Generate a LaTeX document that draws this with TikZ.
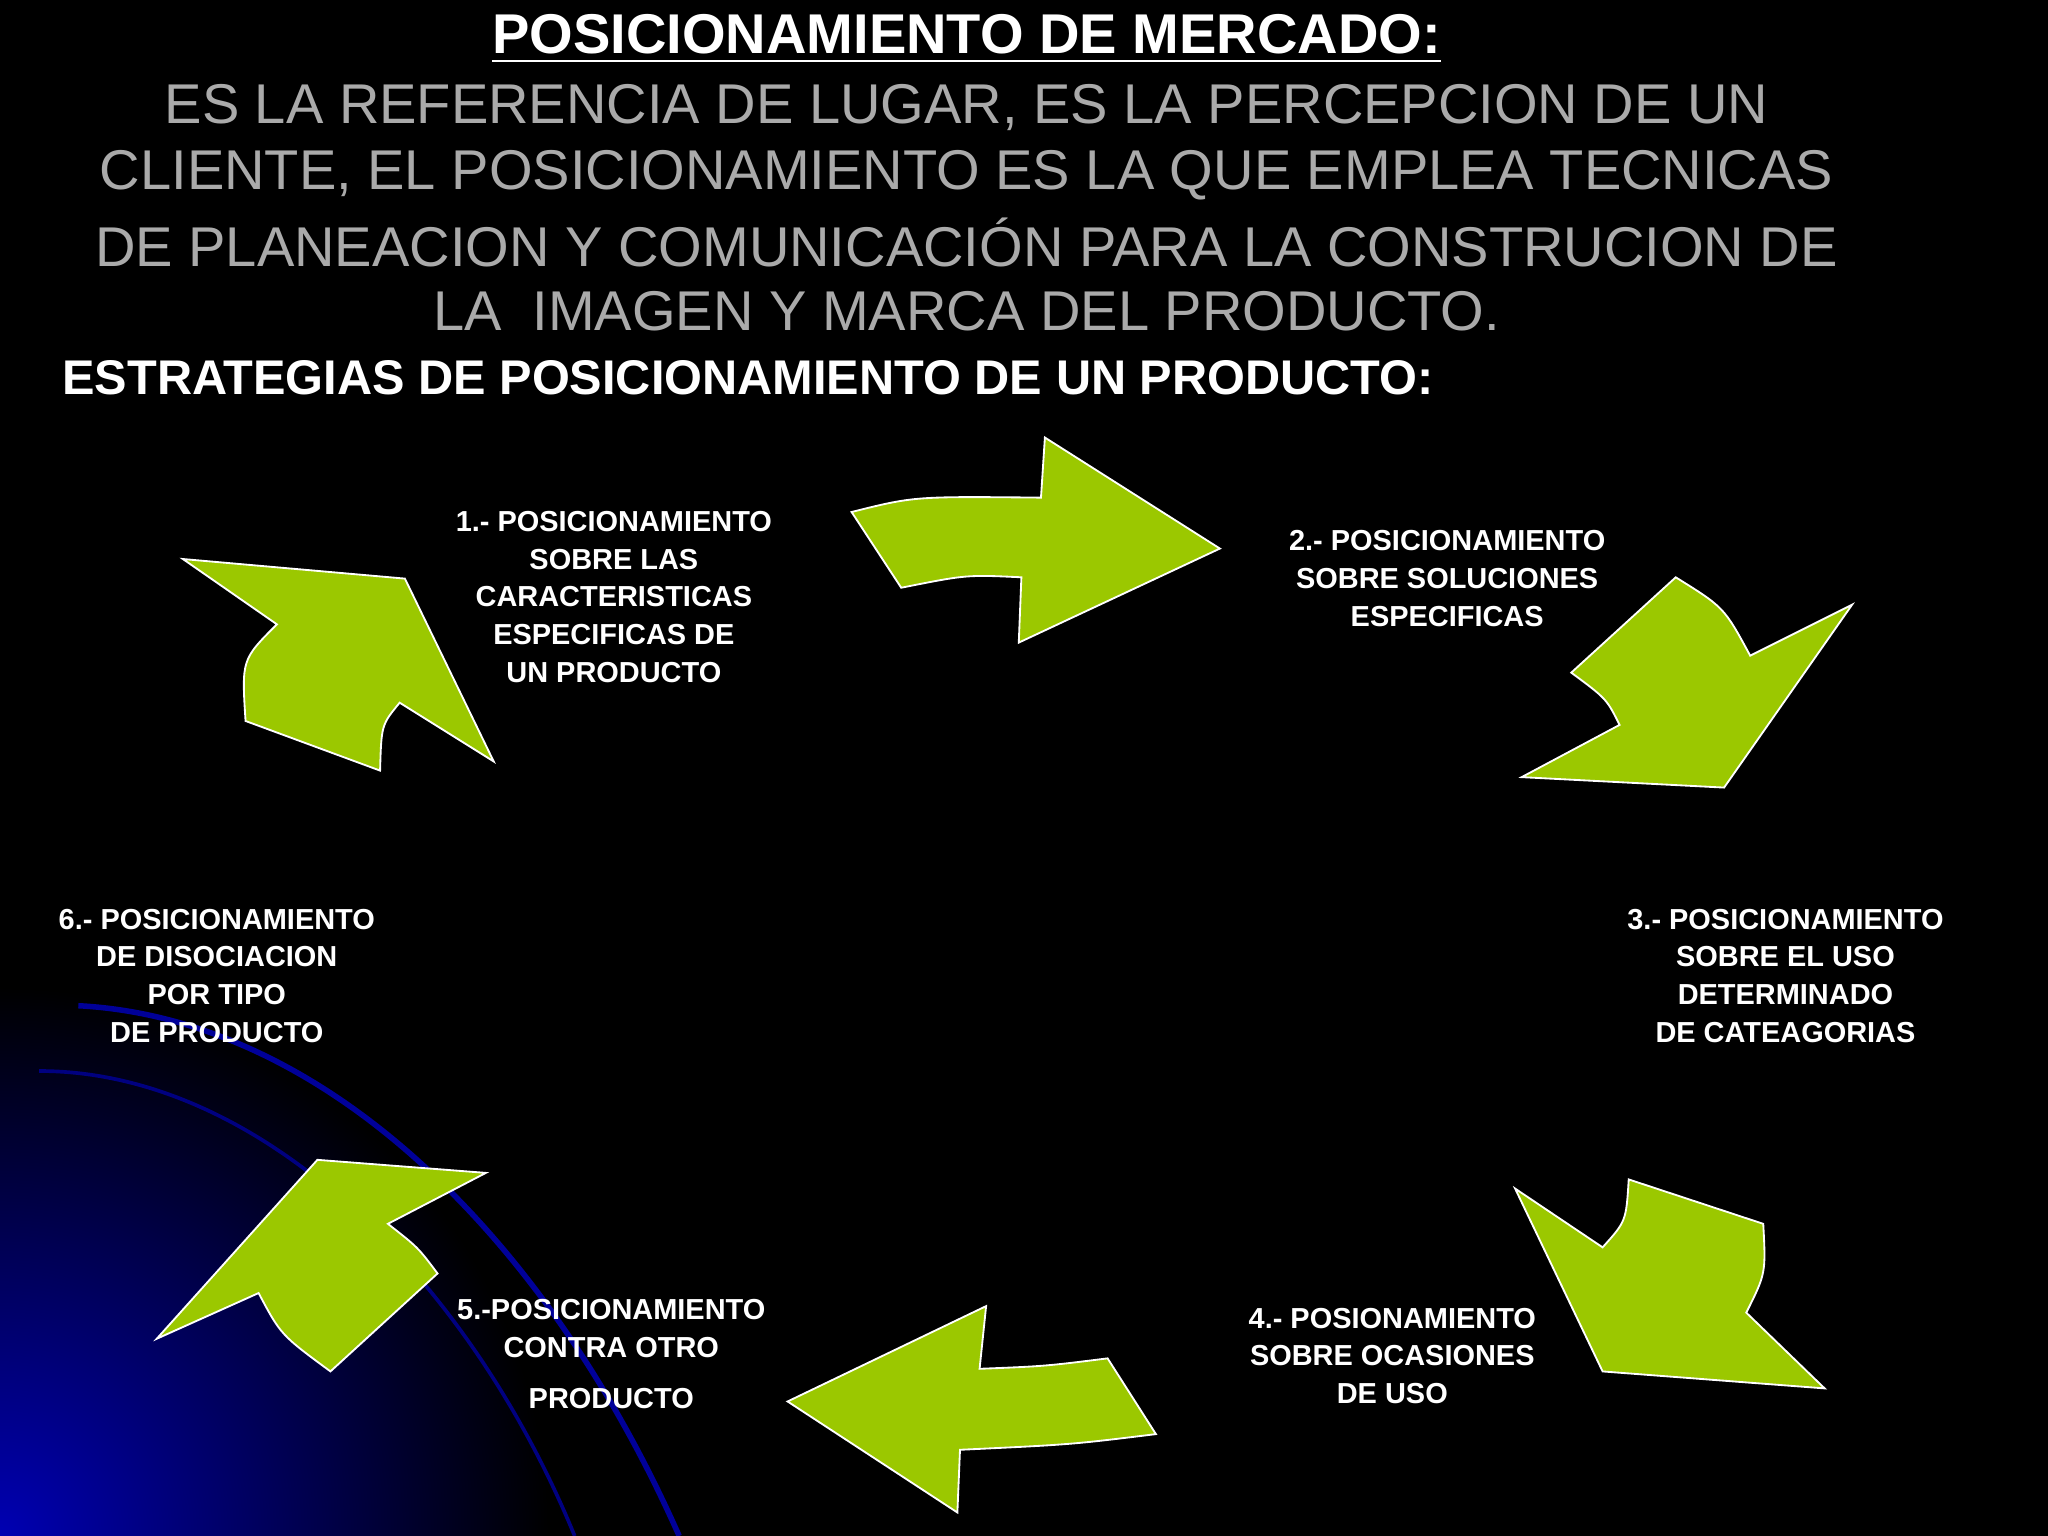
\documentclass[tikz,border=0pt]{standalone}
\usepackage{fontspec}
\setmainfont{Liberation Sans}
\usetikzlibrary{shadings}
\definecolor{grn}{RGB}{155,200,0}
\definecolor{gry}{RGB}{170,170,170}
\tikzset{blk/.style={fill=grn,draw=white,line width=0.4pt},
lbl/.style={text=white,font=\fontsize{6.3}{8.2}\selectfont\bfseries,align=center,inner sep=0},
gl/.style={text=gry,font=\fontsize{12.2}{14.8}\selectfont,inner sep=0}}
\begin{document}
\begin{tikzpicture}[x=0.01cm,y=-0.01cm]
\useasboundingbox (0,0) rectangle (1568,1176);
\fill[black] (0,0) rectangle (1568,1176);
\begin{scope}
\clip (0,0) rectangle (1568,1176);
\shade[inner color=blue!70!black,outer color=black] (0,1176) circle (420);
\draw[blue!60!black,line width=1.2pt] (60,770) .. controls (250,780) and (420,950) .. (520,1176);
\draw[blue!50!black,line width=0.8pt] (30,820) .. controls (200,820) and (360,980) .. (440,1176);
\end{scope}
\node[text=white,font=\fontsize{12.2}{14}\selectfont\bfseries,inner sep=0] (t) at (740,30) {\underline{POSICIONAMIENTO DE MERCADO:}};
\node[gl] (g1) at (740,82) {ES LA REFERENCIA DE LUGAR, ES LA PERCEPCION DE UN};
\node[gl] (g2) at (740,134) {CLIENTE, EL POSICIONAMIENTO ES LA QUE EMPLEA TECNICAS};
\node[gl] (g3) at (740,186) {DE PLANEACION Y COMUNICACIÓN PARA LA CONSTRUCION DE};
\node[gl] (g4) at (740,238) {LA\ \ IMAGEN Y MARCA DEL PRODUCTO.};
\node[text=white,font=\fontsize{10.6}{12}\selectfont\bfseries,inner sep=0,anchor=west] (s) at (47,289) {ESTRATEGIAS DE POSICIONAMIENTO DE UN PRODUCTO:};
% arrows
\draw[blk] (652,392) .. controls (700,380) .. (797,381) -- (800,335) -- (934,420) -- (780,492) -- (782,442) .. controls (740,440) .. (690,450) -- cycle;
\draw[blk] (1283,442) .. controls (1320,465) .. (1340,502) -- (1418,463) -- (1320,603) -- (1165,595) -- (1240,555) .. controls (1230,535) .. (1203,515) -- cycle;
\draw[blk] (1160,910) -- (1227,955) .. controls (1245,935) .. (1247,903) -- (1350,937) .. controls (1352,975) .. (1337,1005) -- (1397,1063) -- (1227,1050) -- cycle;
\draw[blk] (603,1073) -- (755,1000) -- (750,1048) .. controls (800,1046) .. (848,1040) -- (885,1098) .. controls (820,1106) .. (735,1110) -- (733,1158) -- cycle;
\draw[blk] (243,888) -- (372,898) -- (297,937) .. controls (320,955) .. (335,975) -- (253,1050) .. controls (215,1022) .. (198,990) -- (120,1025) -- cycle;
\draw[blk] (140,428) -- (310,443) -- (378,583) -- (306,538) .. controls (292,555) .. (291,590) -- (188,552) .. controls (185,505) .. (212,478) -- cycle;
% labels
\node[lbl] (l1) at (470,457) {1.- POSICIONAMIENTO\\SOBRE LAS\\CARACTERISTICAS\\ESPECIFICAS DE\\UN PRODUCTO};
\node[lbl] (l2) at (1108,443) {2.- POSICIONAMIENTO\\SOBRE SOLUCIONES\\ESPECIFICAS};
\node[lbl] (l3) at (1367,747) {3.- POSICIONAMIENTO\\SOBRE EL USO\\DETERMINADO\\DE CATEAGORIAS};
\node[lbl] (l4) at (1066,1038) {4.- POSIONAMIENTO\\SOBRE OCASIONES\\DE USO};
\node[lbl] (l5) at (468,1037) {5.-POSICIONAMIENTO\\CONTRA OTRO\\[3pt]PRODUCTO};
\node[lbl] (l6) at (166,747) {6.- POSICIONAMIENTO\\DE DISOCIACION\\POR TIPO\\DE PRODUCTO};
\end{tikzpicture}
\end{document}
